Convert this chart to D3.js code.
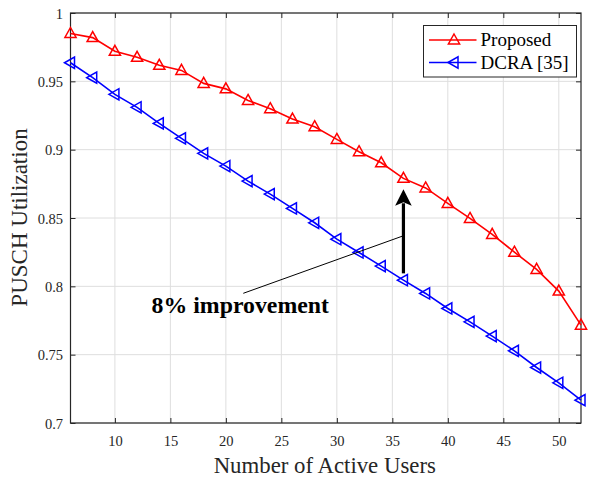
<!DOCTYPE html>
<html>
<head>
<meta charset="utf-8">
<script src="https://cdn.jsdelivr.net/npm/d3@7"></script>
<style>
  html, body { margin: 0; padding: 0; background: #fff; }
  svg { display: block; }
</style>
</head>
<body>
<svg id="chart" width="591" height="477"></svg>
<script>
// Number of active users (x) and PUSCH utilization per scheme
const users = [6, 8, 10, 12, 14, 16, 18, 20, 22, 24, 26, 28, 30, 32, 34, 36, 38, 40, 42, 44, 46, 48, 50, 52];
const proposed = [0.985, 0.982, 0.972, 0.9676, 0.9617, 0.958, 0.9485, 0.9445, 0.936, 0.930, 0.9224, 0.9168,
                  0.9075, 0.8985, 0.8904, 0.879, 0.872, 0.8607, 0.8497, 0.838, 0.825, 0.8124, 0.7965, 0.7716];
const dcra = [0.9636, 0.9527, 0.9405, 0.931, 0.9192, 0.9083, 0.8973, 0.888, 0.877, 0.8675, 0.857, 0.8465,
              0.8345, 0.8248, 0.8148, 0.8045, 0.7948, 0.7838, 0.774, 0.7636, 0.7528, 0.7406, 0.7294, 0.7167];
const seriesNames = ["Proposed", "DCRA [35]"];
const xTicks = [10, 15, 20, 25, 30, 35, 40, 45, 50];
const yTicks = [0.7, 0.75, 0.8, 0.85, 0.9, 0.95, 1];
const annotationText = "8% improvement";

(function draw() {
  const svg = d3.select("#chart");
  const axisColor = "#262626";
  const gridColor = "#dedede";
  const serif = "'Liberation Serif', 'Times New Roman', serif";

  const pl = 70.5, pr = 581, pt = 13, pb = 423;
  const x = d3.scaleLinear().domain([6, 52]).range([pl, pr]);
  const y = d3.scaleLinear().domain([0.7, 1]).range([pb, pt]);

  // grid
  const grid = svg.append("g");
  xTicks.forEach(t => grid.append("line")
    .attr("x1", x(t)).attr("x2", x(t)).attr("y1", pt).attr("y2", pb)
    .attr("stroke", gridColor).attr("stroke-width", 1));
  yTicks.forEach(t => grid.append("line")
    .attr("x1", pl).attr("x2", pr).attr("y1", y(t)).attr("y2", y(t))
    .attr("stroke", gridColor).attr("stroke-width", 1));

  // axes (bottom/left with labels, top/right mirror ticks)
  const tickLen = 5;
  const xAxis = svg.append("g").attr("transform", `translate(0,${pb})`)
    .call(d3.axisBottom(x).tickValues(xTicks).tickSize(-tickLen).tickPadding(12.5).tickFormat(d3.format("d")));
  const yAxis = svg.append("g").attr("transform", `translate(${pl},0)`)
    .call(d3.axisLeft(y).tickValues(yTicks).tickSize(-tickLen).tickPadding(7.5).tickFormat(d => String(+d.toFixed(2))));
  const xTop = svg.append("g").attr("transform", `translate(0,${pt})`)
    .call(d3.axisTop(x).tickValues(xTicks).tickSize(-tickLen).tickFormat(""));
  const yRight = svg.append("g").attr("transform", `translate(${pr},0)`)
    .call(d3.axisRight(y).tickValues(yTicks).tickSize(-tickLen).tickFormat(""));
  [xAxis, yAxis, xTop, yRight].forEach(g => {
    g.attr("font-family", serif);
    g.select(".domain").remove();
    g.selectAll("line").attr("stroke", axisColor).attr("stroke-width", 1);
    g.selectAll("text").attr("fill", axisColor).attr("font-family", serif).attr("font-size", 14.5);
  });
  yAxis.selectAll("text").attr("dy", "0.35em");

  svg.append("rect")
    .attr("x", pl).attr("y", pt).attr("width", pr - pl).attr("height", pb - pt)
    .attr("fill", "none").attr("stroke", axisColor).attr("stroke-width", 1.2);

  // axis titles
  svg.append("text")
    .attr("x", (pl + pr) / 2 - 1).attr("y", 472.5)
    .attr("text-anchor", "middle").attr("font-family", serif).attr("font-size", 22.8)
    .attr("fill", axisColor).text("Number of Active Users");
  svg.append("text")
    .attr("transform", `translate(27,${(pt + pb) / 2 - 0.5}) rotate(-90)`)
    .attr("text-anchor", "middle").attr("font-family", serif).attr("font-size", 23)
    .attr("fill", axisColor).text("PUSCH Utilization");

  // marker shapes
  const triUp = "M0,-6L5.6,4L-5.6,4Z";
  const triLeft = "M-6,0L4,-5.6L4,5.6Z";

  const series = [
    { name: seriesNames[0], values: proposed, color: "#ff0000", marker: triUp },
    { name: seriesNames[1], values: dcra, color: "#0000ff", marker: triLeft }
  ];

  const line = d3.line().x(d => x(d[0])).y(d => y(d[1]));
  series.forEach(s => {
    const pts = users.map((u, i) => [u, s.values[i]]);
    svg.append("path").datum(pts).attr("d", line)
      .attr("fill", "none").attr("stroke", s.color).attr("stroke-width", 1.6);
    svg.append("g").selectAll("path").data(pts).join("path")
      .attr("d", s.marker)
      .attr("transform", d => `translate(${x(d[0])},${y(d[1])})`)
      .attr("fill", "none").attr("stroke", s.color).attr("stroke-width", 1.5);
  });

  // annotation: improvement arrow at 36 users with pointer line to its label
  const arrowX = 36, arrowFrom = 0.8095, arrowTo = 0.871;
  svg.append("line")
    .attr("x1", x(21.57)).attr("y1", y(0.7949))
    .attr("x2", x(arrowX)).attr("y2", y(0.837))
    .attr("stroke", "#000").attr("stroke-width", 1);
  svg.append("line")
    .attr("x1", x(arrowX)).attr("x2", x(arrowX))
    .attr("y1", y(arrowFrom)).attr("y2", y(arrowTo) + 14)
    .attr("stroke", "#000").attr("stroke-width", 3.2);
  svg.append("path")
    .attr("d", `M${x(arrowX)},${y(arrowTo)}L${x(arrowX) + 8.3},${y(arrowTo) + 16.5}L${x(arrowX)},${y(arrowTo) + 13}L${x(arrowX) - 8.3},${y(arrowTo) + 16.5}Z`)
    .attr("fill", "#000");
  svg.append("text")
    .attr("x", x(21.3)).attr("y", y(0.7804))
    .attr("text-anchor", "middle").attr("font-family", serif).attr("font-weight", "bold")
    .attr("font-size", 23.8).attr("fill", "#000").text(annotationText);

  // legend
  const lg = svg.append("g");
  lg.append("rect").attr("x", 423.5).attr("y", 25.5).attr("width", 153).attr("height", 51.5)
    .attr("fill", "#fff").attr("stroke", axisColor).attr("stroke-width", 1);
  series.forEach((s, i) => {
    const cy = 40 + i * 22.5;
    lg.append("line").attr("x1", 429).attr("x2", 476.5).attr("y1", cy).attr("y2", cy)
      .attr("stroke", s.color).attr("stroke-width", 1.6);
    lg.append("path").attr("d", s.marker).attr("transform", `translate(454,${cy})`)
      .attr("fill", "none").attr("stroke", s.color).attr("stroke-width", 1.5);
    lg.append("text").attr("x", 480.5).attr("y", cy).attr("dy", "0.33em")
      .attr("font-family", serif).attr("font-size", 19).attr("fill", "#000").text(s.name);
  });
})();
</script>
</body>
</html>
